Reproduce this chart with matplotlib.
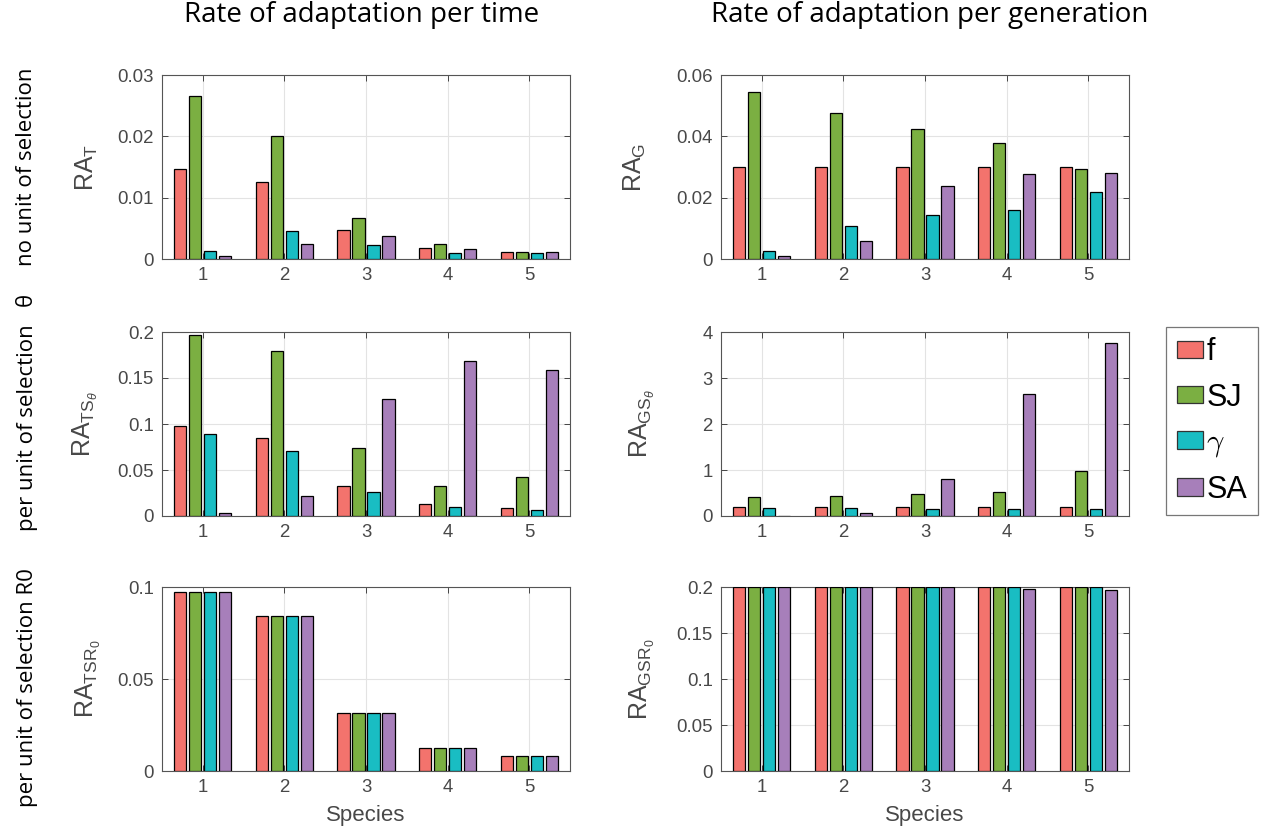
import matplotlib
matplotlib.use("Agg")
import matplotlib.pyplot as plt
import numpy as np
from matplotlib.patches import Patch
from matplotlib.ticker import FuncFormatter

plt.rcParams["font.family"] = ["Liberation Sans", "DejaVu Sans"]
plt.rcParams["mathtext.fontset"] = "custom"
plt.rcParams["mathtext.rm"] = "Liberation Sans"
plt.rcParams["mathtext.it"] = "Liberation Sans:italic"

species = [1, 2, 3, 4, 5]
series_names = ["f", "SJ", r"$\gamma$", "SA"]
colors = ["#F3736D", "#7BAF42", "#19BDC3", "#A77FBA"]

# values per panel: one list per series (f, SJ, gamma, SA), one value per species
ra_t = [
    [0.0147, 0.0126, 0.0047, 0.0018, 0.0012],
    [0.0266, 0.0201, 0.0067, 0.0024, 0.0012],
    [0.0013, 0.0045, 0.0023, 0.0010, 0.0009],
    [0.0005, 0.0025, 0.0038, 0.0017, 0.0011],
]
ra_g = [
    [0.030, 0.030, 0.030, 0.030, 0.030],
    [0.0544, 0.0476, 0.0423, 0.0378, 0.0294],
    [0.0026, 0.0107, 0.0143, 0.0160, 0.0217],
    [0.0010, 0.0060, 0.0239, 0.0277, 0.0280],
]
ra_ts = [
    [0.0978, 0.0848, 0.0322, 0.0130, 0.0083],
    [0.1967, 0.1793, 0.0736, 0.0326, 0.0420],
    [0.0895, 0.0710, 0.0257, 0.0098, 0.0069],
    [0.0036, 0.0214, 0.1272, 0.1681, 0.1590],
]
ra_gs = [
    [0.20, 0.20, 0.20, 0.20, 0.20],
    [0.406, 0.435, 0.471, 0.514, 0.985],
    [0.180, 0.167, 0.160, 0.152, 0.152],
    [0.005, 0.058, 0.804, 2.652, 3.760],
]
ra_tsr = [
    [0.0973, 0.0841, 0.0317, 0.0126, 0.0083],
    [0.0973, 0.0841, 0.0317, 0.0126, 0.0083],
    [0.0973, 0.0841, 0.0317, 0.0126, 0.0083],
    [0.0973, 0.0841, 0.0317, 0.0126, 0.0083],
]
ra_gsr = [
    [0.2, 0.2, 0.2, 0.2, 0.2],
    [0.2, 0.2, 0.2, 0.2, 0.1995],
    [0.2, 0.2, 0.2, 0.2, 0.2],
    [0.2, 0.2, 0.2, 0.198, 0.1966],
]

panels = [
    (ra_t, r"RA$_\mathrm{T}$", 0.03, 0.01, -0.152),
    (ra_g, r"RA$_\mathrm{G}$", 0.06, 0.02, -0.178),
    (ra_ts, r"RA$_{\mathrm{TS}_\theta}$", 0.2, 0.05, -0.152),
    (ra_gs, r"RA$_{\mathrm{GS}_\theta}$", 4, 1, -0.158),
    (ra_tsr, r"RA$_{\mathrm{TSR}_0}$", 0.1, 0.05, -0.145),
    (ra_gsr, r"RA$_{\mathrm{GSR}_0}$", 0.2, 0.05, -0.158),
]

W, H = 1266, 834
fig = plt.figure(figsize=(W / 100, H / 100), dpi=100)

col_left = [162, 721]
row_top = [75, 332, 587]
ax_w, ax_h = 408, 184
offsets = [-0.275, -0.0917, 0.0917, 0.275]
bar_w = 0.15
axcol = "#2b2b2b"

g = lambda v, _: "%g" % v

for i, (data, ylab, ymax, ystep, lab_x) in enumerate(panels):
    r, c = divmod(i, 2)
    x0 = col_left[c] / W
    y0 = 1 - (row_top[r] + ax_h) / H
    ax = fig.add_axes([x0, y0, ax_w / W, ax_h / H])
    x = np.array(species, dtype=float)
    for k, vals in enumerate(data):
        ax.bar(x + offsets[k], vals, width=bar_w, color=colors[k],
               edgecolor="black", linewidth=0.9, zorder=3)
    ax.set_xlim(0.5, 5.5)
    ax.set_ylim(0, ymax)
    ax.set_xticks(species)
    ax.set_yticks(np.arange(0, ymax + ystep / 2, ystep))
    ax.yaxis.set_major_formatter(FuncFormatter(g))
    ax.grid(True, color="#e3e3e3", linewidth=0.8, zorder=0)
    ax.set_axisbelow(True)
    ax.tick_params(direction="in", length=4, width=0.6, colors=axcol,
                   labelsize=13.4, labelcolor="#484848",
                   top=True, right=True, pad=6)
    for s in ax.spines.values():
        s.set_color("#555555")
        s.set_linewidth(0.8)
    ax.set_ylabel(ylab, fontsize=18, color="#484848")
    ax.yaxis.set_label_coords(lab_x, 0.5)
    if r == 2:
        ax.set_xlabel("Species", fontsize=16, color="#484848", labelpad=6)

title_font = ["Open Sans", "DejaVu Sans"]
fig.text(362 / W, 1 - 15 / H, "Rate of adaptation per time", fontsize=20,
         family=title_font, ha="center", va="center")
fig.text(930 / W, 1 - 15 / H, "Rate of adaptation per generation",
         fontsize=20, family=title_font, ha="center", va="center")

row_font = ["Open Sans", "DejaVu Sans"]
fig.text(27 / W, 1 - 167 / H, "no unit of selection", rotation=90,
         fontsize=16, family=row_font, ha="center", va="center")
fig.text(27 / W, 1 - 412 / H, "per unit of selection   \u03b8",
         rotation=90, fontsize=16, family=row_font, ha="center", va="center")
fig.text(27 / W, 1 - 688 / H, "per unit of selection R0", rotation=90,
         fontsize=16, family=row_font, ha="center", va="center")

handles = [Patch(facecolor=col, edgecolor="#333333", linewidth=0.9)
           for col in colors]
leg = fig.legend(handles, series_names, loc="center",
                 bbox_to_anchor=(1212 / W, 1 - 421 / H), fontsize=22,
                 frameon=True, fancybox=False, handlelength=0.85,
                 handleheight=0.5, handletextpad=0.1, labelspacing=0.5,
                 borderpad=0.35, borderaxespad=0)
leg.get_frame().set_edgecolor("#555555")
leg.get_frame().set_linewidth(0.9)
leg.get_texts()[2].set_math_fontfamily("cm")

fig.savefig("out.png", dpi=100)
